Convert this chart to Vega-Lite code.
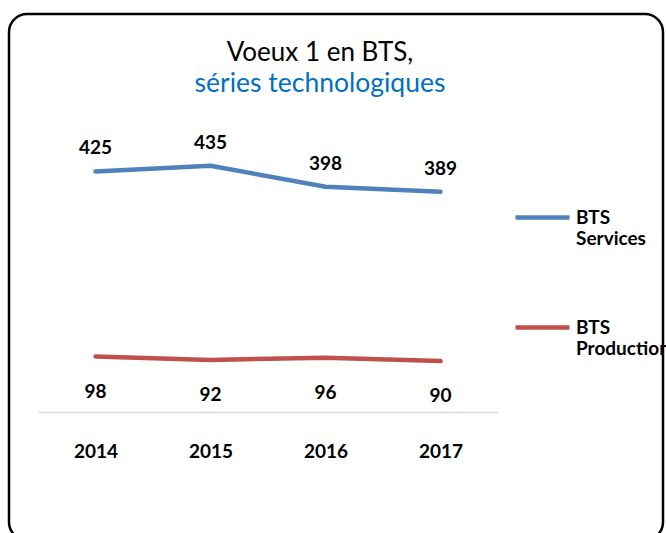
{
  "$schema": "https://vega.github.io/schema/vega-lite/v6.json",
  "width": 654,
  "height": 526,
  "autosize": "none",
  "padding": {"left": 9, "top": 14, "right": 3, "bottom": -7},
  "background": "white",
  "config": {
    "font": "Lato",
    "view": {"stroke": "black", "strokeWidth": 2.5, "cornerRadius": 18, "fill": "white"}
  },
  "title": {
    "text": "Voeux 1 en BTS,",
    "subtitle": "séries technologiques",
    "font": "Lato",
    "subtitleFont": "Lato",
    "fontSize": 26,
    "subtitleFontSize": 26.5,
    "fontWeight": "normal",
    "color": "black",
    "subtitleColor": "#0070C0",
    "anchor": "middle",
    "frame": "group",
    "dx": -16,
    "offset": -83,
    "subtitlePadding": 5
  },
  "data": {
    "values": [
      {"year": "2014", "series": "BTS Services", "value": 425},
      {"year": "2015", "series": "BTS Services", "value": 435},
      {"year": "2016", "series": "BTS Services", "value": 398},
      {"year": "2017", "series": "BTS Services", "value": 389},
      {"year": "2014", "series": "BTS Production", "value": 98},
      {"year": "2015", "series": "BTS Production", "value": 92},
      {"year": "2016", "series": "BTS Production", "value": 96},
      {"year": "2017", "series": "BTS Production", "value": 90}
    ]
  },
  "encoding": {
    "x": {
      "field": "year",
      "type": "ordinal",
      "scale": {"type": "point", "range": [29, 489], "padding": 0.5},
      "axis": {
        "orient": "bottom",
        "offset": -128,
        "title": null,
        "domainColor": "#D9D9D9",
        "domainWidth": 1.5,
        "ticks": false,
        "grid": false,
        "labelAngle": 0,
        "labelFont": "Lato",
        "labelFontSize": 19,
        "labelFontWeight": "bold",
        "labelColor": "black",
        "labelPadding": 30
      }
    },
    "y": {
      "field": "value",
      "type": "quantitative",
      "scale": {"domain": [0, 500], "range": [398, 115]},
      "axis": null
    }
  },
  "layer": [
    {
      "mark": {"type": "line", "strokeWidth": 4.5, "strokeCap": "round", "strokeJoin": "round"},
      "encoding": {
        "color": {
          "field": "series",
          "type": "nominal",
          "scale": {"domain": ["BTS Services", "BTS Production"], "range": ["#4F81BD", "#C0504D"]},
          "legend": {
            "title": null,
            "orient": "none",
            "legendX": 504,
            "legendY": 174,
            "symbolType": "stroke",
            "symbolSize": 2916,
            "symbolStrokeWidth": 4.5,
            "labelFont": "Lato",
            "labelFontSize": 19,
            "labelFontWeight": "bold",
            "labelColor": "black",
            "labelOffset": 4,
            "labelBaseline": "middle",
            "labelLimit": 300,
            "labelExpr": "split(datum.label, ' ')",
            "rowPadding": 49
          }
        }
      }
    },
    {
      "transform": [{"filter": "datum.series === 'BTS Services'"}],
      "mark": {"type": "text", "dy": -17, "baseline": "alphabetic", "align": "center", "font": "Lato", "fontSize": 19, "fontWeight": "bold", "color": "black"},
      "encoding": {"text": {"field": "value", "type": "quantitative"}}
    },
    {
      "transform": [{"filter": "datum.series === 'BTS Production'"}],
      "mark": {"type": "text", "dy": 41, "baseline": "alphabetic", "align": "center", "font": "Lato", "fontSize": 19, "fontWeight": "bold", "color": "black"},
      "encoding": {"text": {"field": "value", "type": "quantitative"}}
    }
  ]
}
